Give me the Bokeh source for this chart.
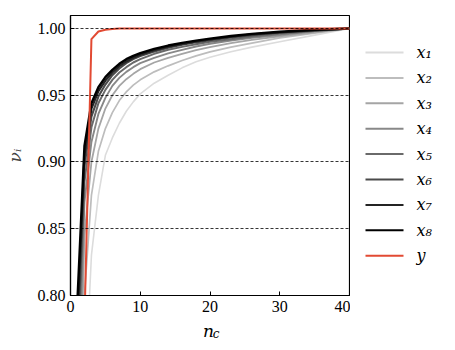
from bokeh.plotting import figure
from bokeh.layouts import column, row
from bokeh.models import Range1d, FixedTicker, NumeralTickFormatter
from bokeh.core.properties import value
from bokeh.embed import file_html
from bokeh.resources import INLINE

n_c = [1, 2, 3, 4, 5, 6, 7, 8, 9, 10, 12, 14, 16, 18, 20, 23, 26, 30, 35, 40]

x1 = [0.40, 0.72, 0.83, 0.875, 0.905, 0.918, 0.929, 0.938, 0.945, 0.951, 0.959, 0.965, 0.9705, 0.975, 0.9785, 0.9825, 0.986, 0.990, 0.995, 1.0]
x2 = [0.55, 0.80, 0.875, 0.908, 0.925, 0.937, 0.946, 0.9525, 0.9575, 0.9615, 0.9675, 0.972, 0.976, 0.9795, 0.9825, 0.986, 0.989, 0.993, 0.9965, 1.0]
x3 = [0.65, 0.845, 0.900, 0.925, 0.940, 0.950, 0.957, 0.962, 0.966, 0.9695, 0.9745, 0.978, 0.981, 0.9837, 0.986, 0.989, 0.9915, 0.994, 0.997, 1.0]
x4 = [0.70, 0.87, 0.915, 0.936, 0.948, 0.957, 0.963, 0.9675, 0.971, 0.974, 0.978, 0.9813, 0.984, 0.9865, 0.9885, 0.991, 0.993, 0.995, 0.998, 1.0]
x5 = [0.74, 0.885, 0.926, 0.944, 0.954, 0.9615, 0.967, 0.971, 0.9745, 0.977, 0.981, 0.984, 0.9862, 0.9882, 0.990, 0.992, 0.994, 0.996, 0.998, 1.0]
x6 = [0.76, 0.897, 0.934, 0.949, 0.958, 0.965, 0.970, 0.974, 0.977, 0.9793, 0.9828, 0.9855, 0.9878, 0.9896, 0.9912, 0.9932, 0.995, 0.997, 0.9985, 1.0]
x7 = [0.78, 0.905, 0.940, 0.953, 0.961, 0.967, 0.9718, 0.9753, 0.978, 0.9803, 0.9837, 0.9863, 0.9885, 0.9903, 0.9918, 0.9938, 0.9955, 0.997, 0.9988, 1.0]
x8 = [0.797, 0.912, 0.944, 0.956, 0.9635, 0.969, 0.9735, 0.977, 0.9795, 0.9815, 0.9847, 0.9872, 0.9892, 0.9909, 0.9924, 0.9943, 0.9959, 0.9975, 0.999, 1.0]
y = [0.30, 0.78, 0.992, 0.9977, 0.9990, 0.9996, 0.9999, 1.0, 1.0, 1.0, 1.0, 1.0, 1.0, 1.0, 1.0, 1.0, 1.0, 1.0, 1.0, 1.0]

series_names = ["x₁", "x₂", "x₃", "x₄", "x₅", "x₆", "x₇", "x₈", "y"]
series_values = [x1, x2, x3, x4, x5, x6, x7, x8, y]
colors = ["#dcdcdc", "#bdbdbd", "#a5a5a5", "#888888", "#6a6a6a", "#4a4a4a", "#242424", "#000000", "#E24A33"]
widths = [1.6, 1.7, 1.8, 1.9, 2.0, 2.1, 2.2, 2.4, 2.0]

y_ticks = [0.80, 0.85, 0.90, 0.95, 1.00]
x_ticks = [0, 10, 20, 30, 40]

TICK_FONT = "Liberation Serif"
LABEL_FONT = "DejaVu Serif"

# ---------------- main plot ----------------
p = figure(width=350, height=319, output_backend="svg", toolbar_location=None,
           x_range=Range1d(0, 40), y_range=Range1d(0.80, 1.0097),
           min_border_left=70, min_border_right=1, min_border_top=15, min_border_bottom=24)
p.background_fill_color = "white"
p.border_fill_color = "white"
p.outline_line_color = "black"
p.outline_line_width = 1.2

for vals, c, w in zip(series_values, colors, widths):
    p.line(n_c, vals, line_color=c, line_width=w)

for ax in (p.xaxis[0], p.yaxis[0]):
    ax.axis_line_color = "black"
    ax.axis_line_width = 1.2
    ax.major_tick_in = 4
    ax.major_tick_out = 0
    ax.minor_tick_line_color = None
    ax.major_tick_line_color = "black"
    ax.major_label_text_font = TICK_FONT
    ax.major_label_text_font_size = "16px"
    ax.major_label_text_color = "black"
    ax.major_label_standoff = 5

p.xaxis.ticker = FixedTicker(ticks=x_ticks)
p.yaxis.ticker = FixedTicker(ticks=y_ticks)
p.yaxis.formatter = NumeralTickFormatter(format="0.00")
p.xaxis.formatter = NumeralTickFormatter(format="0")

p.yaxis.axis_label = "νᵢ"
p.yaxis.axis_label_text_font = LABEL_FONT
p.yaxis.axis_label_text_font_style = "italic"
p.yaxis.axis_label_text_font_size = "17px"
p.yaxis.axis_label_standoff = 10

p.xgrid.grid_line_color = None
p.ygrid.grid_line_color = "black"
p.ygrid.grid_line_width = 0.8
p.ygrid.grid_line_dash = "3 2"
p.ygrid.level = "overlay"

# ---------------- x-axis label strip (n_c) ----------------
lab = figure(width=350, height=30, output_backend="svg", toolbar_location=None,
             x_range=p.x_range, y_range=Range1d(0, 30),
             x_axis_location=None, y_axis_location=None,
             min_border_left=70, min_border_right=1, min_border_top=0, min_border_bottom=0)
lab.outline_line_color = None
lab.grid.grid_line_color = None
lab.border_fill_color = "white"
lab.background_fill_color = "white"
lab.text(x=[19.0], y=[19], text=["n"], text_font=value(LABEL_FONT), text_font_style="italic",
         text_font_size="17px", text_baseline="alphabetic", text_align="left", text_color="black")
lab.text(x=[20.4], y=[15.5], text=["c"], text_font=value(LABEL_FONT), text_font_style="italic",
         text_font_size="12px", text_baseline="alphabetic", text_align="left", text_color="black")

# ---------------- legend panel ----------------
LW, LH = 104, 349
leg = figure(width=LW, height=LH, output_backend="svg", toolbar_location=None,
             x_range=Range1d(0, LW), y_range=Range1d(LH, 0),
             x_axis_location=None, y_axis_location=None,
             min_border_left=0, min_border_right=0, min_border_top=0, min_border_bottom=0)
leg.outline_line_color = None
leg.grid.grid_line_color = None
leg.border_fill_color = "white"
leg.background_fill_color = "white"
row_y = [52 + 25.4 * i for i in range(len(series_names))]
for yy, c in zip(row_y, colors):
    leg.line([15, 53], [yy, yy], line_color=c, line_width=2)
leg.text(x=[66] * len(series_names), y=row_y, text=series_names, text_font=value(LABEL_FONT),
         text_font_style="italic", text_font_size="16px", text_baseline="middle",
         text_align="left", text_color="black")

layout = row(column(p, lab, spacing=0), leg, spacing=0)
open("out.html", "w").write(file_html(layout, INLINE))
